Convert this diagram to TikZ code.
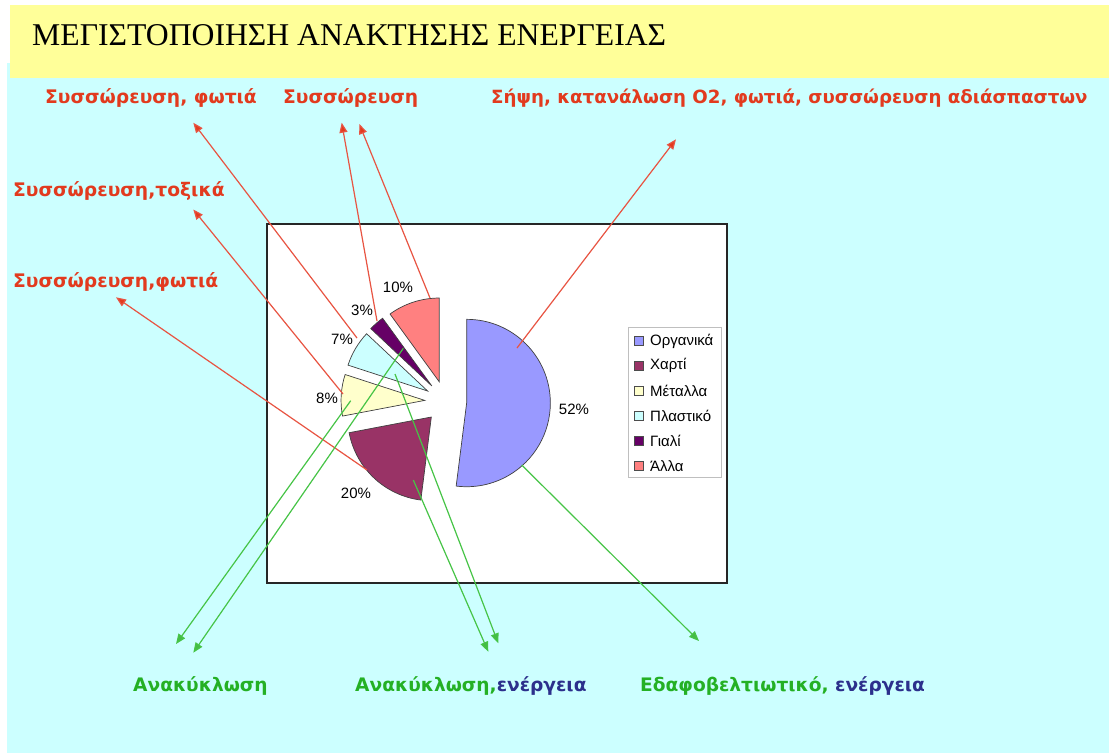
\documentclass[tikz,border=0pt]{standalone}
\usepackage{fontspec}
\setmainfont{Liberation Serif}
\setsansfont{Liberation Sans}
\newfontfamily\labfont{DejaVu Sans}
\usetikzlibrary{arrows.meta}

\definecolor{bgcyan}{HTML}{CCFFFF}
\definecolor{titleyellow}{HTML}{FFFF99}
\definecolor{organic}{HTML}{9999FF}
\definecolor{paper}{HTML}{993366}
\definecolor{metal}{HTML}{FFFFCC}
\definecolor{plastic}{HTML}{CCFFFF}
\definecolor{glass}{HTML}{660066}
\definecolor{other}{HTML}{FF8080}
\definecolor{hazard}{RGB}{226,58,30}
\definecolor{hazardline}{RGB}{232,84,66}
\definecolor{benefit}{RGB}{36,176,36}
\definecolor{benefitline}{RGB}{70,196,70}
\definecolor{energy}{RGB}{44,48,140}

\tikzset{
  hazardlabel/.style={anchor=west, inner sep=0pt, text=hazard, font=\labfont\bfseries\fontsize{18.7}{22}\selectfont},
  benefitlabel/.style={anchor=west, inner sep=0pt, text=benefit, font=\labfont\bfseries\fontsize{18.6}{22}\selectfont},
  hazardarrow/.style={draw=hazardline, line width=1.2pt, -{Triangle[length=10pt,width=8pt,fill=hazard]}},
  benefitarrow/.style={draw=benefitline, line width=1.2pt, -{Triangle[length=10pt,width=8pt,fill=benefit!85!white]}},
  slice/.style={draw=black!75, line width=0.7pt},
  pct/.style={inner sep=0pt, font=\sffamily\fontsize{15}{18}\selectfont},
  legendkey/.style={draw=black!70, line width=0.5pt, minimum size=9pt, inner sep=0pt},
  legendtext/.style={anchor=west, inner sep=0pt, font=\sffamily\fontsize{15}{18}\selectfont},
}

\begin{document}
\begin{tikzpicture}[x=1pt, y=-1pt]
\useasboundingbox (0,0) rectangle (1109,753);
\fill[white] (0,0) rectangle (1109,753);
% backgrounds
\fill[bgcyan] (7,63) rectangle (1109,753);
\fill[titleyellow] (10,5) rectangle (1109,78);
\node[anchor=west, inner sep=0pt, font=\fontsize{31.7}{36}\selectfont] (title) at (32,35) {ΜΕΓΙΣΤΟΠΟΙΗΣΗ ΑΝΑΚΤΗΣΗΣ ΕΝΕΡΓΕΙΑΣ};

% chart area
\node[draw=black!85, line width=1.3pt, fill=white, minimum width=460pt, minimum height=359pt, inner sep=0pt] (chart) at (497,403.5) {};

% exploded pie
\begin{scope}[shift={(445.7,401.7)}, y=1pt]
  \foreach \c/\a/\b in {organic/90/-97.2, paper/-97.2/-169.2, metal/-169.2/-198,
                        plastic/-198/-223.2, glass/-223.2/-234, other/-234/-270} {
    \pgfmathsetmacro\m{(\a+\b)/2}
    \filldraw[slice, fill=\c] (\m:21) -- ++(\a:83.7) arc[start angle=\a, end angle=\b, radius=83.7] -- cycle;
  }
\end{scope}

% percentages
\node[pct] (p52) at (574,409) {52\%};
\node[pct] (p20) at (356,493) {20\%};
\node[pct] (p8)  at (327,398) {8\%};
\node[pct] (p7)  at (342,339) {7\%};
\node[pct] (p3)  at (362,310) {3\%};
\node[pct] (p10) at (398,287) {10\%};

% legend
\node[draw=black!25, line width=0.6pt, fill=white, minimum width=93pt, minimum height=150pt, inner sep=0pt] (legend) at (675,402.5) {};
\foreach \n/\c/\t/\y in {k1/organic/Οργανικά/341, k2/paper/Χαρτί/365.5, k3/metal/Μέταλλα/390.5,
                         k4/plastic/Πλαστικό/415.5, k5/glass/Γιαλί/440.5, k6/other/Άλλα/466} {
  \node[legendkey, fill=\c] (\n) at (639,\y) {};
  \node[legendtext] (\n t) at (650,\y) {\t};
}

% labels
\node[hazardlabel] (h1) at (45,98)  {Συσσώρευση, φωτιά};
\node[hazardlabel] (h2) at (283,98) {Συσσώρευση};
\node[hazardlabel, font=\labfont\bfseries\fontsize{18.2}{22}\selectfont] (h3) at (491,98) {Σήψη, κατανάλωση O2, φωτιά, συσσώρευση αδιάσπαστων};
\node[hazardlabel] (h4) at (13,191) {Συσσώρευση,τοξικά};
\node[hazardlabel] (h5) at (13,282) {Συσσώρευση,φωτιά};
\node[benefitlabel] (b1) at (133,686) {Ανακύκλωση};
\node[benefitlabel] (b2) at (355,686) {Ανακύκλωση,\textcolor{energy}{ενέργεια}};
\node[benefitlabel] (b3) at (640,686) {Εδαφοβελτιωτικό, \textcolor{energy}{ενέργεια}};

% connector ends
\coordinate (plasticA) at (357,338);
\coordinate (glassA)   at (377,321);
\coordinate (otherA)   at (430,298);
\coordinate (organicA) at (517,348);
\coordinate (metalA)   at (343,394);
\coordinate (paperA)   at (367,470);
\coordinate (metalB)   at (350.7,400.7);
\coordinate (glassB)   at (403.3,348.3);
\coordinate (paperB)   at (413.3,480);
\coordinate (plasticB) at (395,374);
\coordinate (organicB) at (521.7,465);

\coordinate (h1t)  at (193.3,122.7);
\coordinate (h2ta) at (341.7,122.7);
\coordinate (h2tb) at (359.3,124);
\coordinate (h3t)  at (676,139.3);
\coordinate (h4t)  at (193.3,209.5);
\coordinate (h5t)  at (116,297.3);
\coordinate (b1ta) at (176,644);
\coordinate (b1tb) at (193.3,652.7);
\coordinate (b2ta) at (488.3,651.7);
\coordinate (b2tb) at (498.3,643.3);
\coordinate (b3t)  at (699,641);

% connectors
\draw[hazardarrow] (plasticA) -- (h1t);
\draw[hazardarrow] (glassA)   -- (h2ta);
\draw[hazardarrow] (otherA)   -- (h2tb);
\draw[hazardarrow] (organicA) -- (h3t);
\draw[hazardarrow] (metalA)   -- (h4t);
\draw[hazardarrow] (paperA)   -- (h5t);
\draw[benefitarrow] (metalB)   -- (b1ta);
\draw[benefitarrow] (glassB)   -- (b1tb);
\draw[benefitarrow] (paperB)   -- (b2ta);
\draw[benefitarrow] (plasticB) -- (b2tb);
\draw[benefitarrow] (organicB) -- (b3t);
\end{tikzpicture}
\end{document}
